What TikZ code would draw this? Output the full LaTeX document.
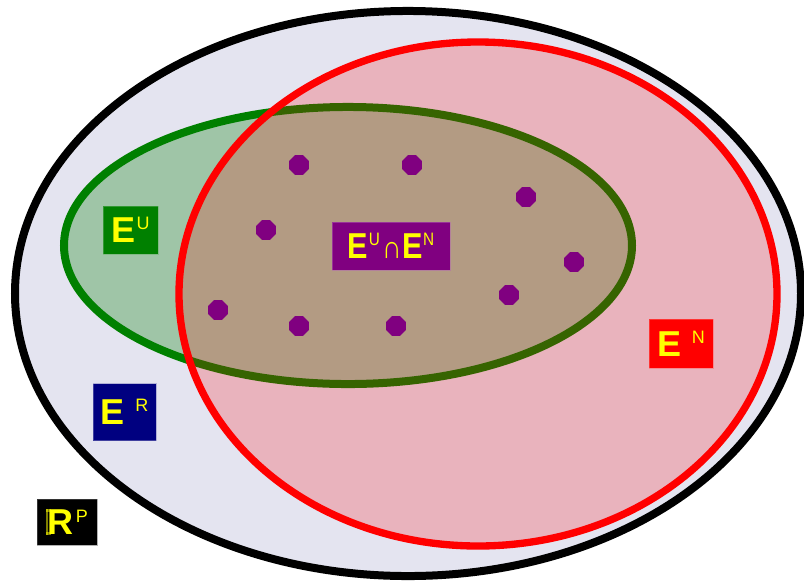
\documentclass[tikz,border=0pt]{standalone}
\usepackage{fontspec}
\usetikzlibrary{shapes.geometric}
\newfontfamily\labfont{Liberation Sans}
\newfontfamily\labcond{Liberation Sans}[FakeStretch=0.85]
\definecolor{lav}{RGB}{228,228,240}
\definecolor{dgreen}{RGB}{0,128,0}
\definecolor{purp}{RGB}{128,0,128}
\definecolor{navyb}{RGB}{0,0,128}
\definecolor{yel}{RGB}{255,255,0}
\newcommand{\bigE}[1]{{\fontsize{27}{27}\selectfont\bfseries #1}}
\newcommand{\supx}[1]{\raisebox{9.6pt}{\fontsize{13.5}{13.5}\selectfont\mdseries #1}}
\newcommand{\dblR}{{\fontsize{27}{27}\selectfont\bfseries\rule{1.6pt}{19.4pt}\kern-1.6pt\rule[17.2pt]{3.5pt}{2.2pt}\kern-3.5pt\rule{3.5pt}{2.2pt}\kern-2.6pt R}}
\tikzset{
  setline/.style={line width=6pt},
  labbox/.style={rectangle, inner sep=0pt, text=yel, font=\labfont, draw opacity=0.5, line width=0.6pt},
  dot/.style={regular polygon, regular polygon sides=8, minimum size=16pt, inner sep=0pt, fill=purp}
}
\begin{document}
\begin{tikzpicture}[x=0.75pt,y=-0.75pt]
\useasboundingbox (0,0) rectangle (804,583);
\clip (0,0) rectangle (804,583);
% outer set
\draw[setline, fill=lav] (408,293.5) ellipse [x radius=294.75pt, y radius=211.9pt];
% green set
\draw[setline, draw=dgreen, fill=dgreen, fill opacity=0.3] (348,245.5) ellipse [x radius=213pt, y radius=103.9pt];
% red set
\draw[line width=5.5pt, draw=red, fill=red, fill opacity=0.21] (478,294) ellipse [x radius=224.25pt, y radius=189pt];
% dots
\node[dot] (d1) at (299,165) {};
\node[dot] (d2) at (412,165) {};
\node[dot] (d3) at (526,197) {};
\node[dot] (d4) at (266,230) {};
\node[dot] (d5) at (574,262) {};
\node[dot] (d6) at (509,295) {};
\node[dot] (d7) at (218,310) {};
\node[dot] (d8) at (299,326) {};
\node[dot] (d9) at (396,326) {};
% labels
\node[labbox, fill=dgreen, draw=dgreen!60!white, minimum width=41.25pt, minimum height=36pt] (eu) at (130.5,230)
  {\bigE{E}\kern1pt\supx{U}};
\node[labbox, fill=purp, draw=purp!60!white, minimum width=88.5pt, minimum height=36pt, font=\labcond] (eun) at (391,246)
  {\bigE{E}\kern0.5pt\supx{U}\kern1.5pt{\fontsize{24}{24}\selectfont ∩}\kern0.5pt\bigE{E}\kern0.3pt\supx{N}};
\node[labbox, fill=red, draw=red!60!white, minimum width=48pt, minimum height=36.75pt] (en) at (681,343.5)
  {\bigE{E}\kern8pt\supx{N}};
\node[labbox, fill=navyb, draw=navyb!50!white, minimum width=47.25pt, minimum height=42.75pt] (er) at (124.5,412)
  {\bigE{E}\kern8pt\supx{R}};
\node[labbox, fill=black, draw=black!60!white, minimum width=45pt, minimum height=34.5pt] (rp) at (67,522)
  {\dblR\kern2pt\supx{P}};
\end{tikzpicture}
\end{document}
